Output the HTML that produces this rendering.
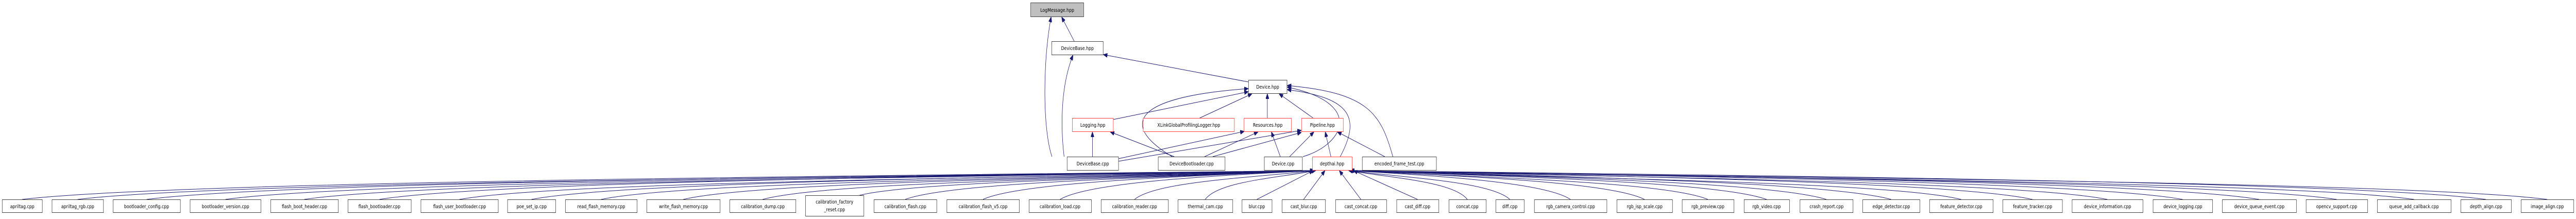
<!DOCTYPE html>
<html><head><meta charset="utf-8"><style>
html,body{margin:0;padding:0;background:#fff;width:100%;height:100%;overflow:hidden}
svg{display:block;width:100vw;height:100vh}
text{font-family:"DejaVu Sans","Liberation Sans",sans-serif;font-size:10px;fill:#000;text-anchor:middle}
.n{fill:#fff;stroke:#404040;stroke-width:1}
.r{fill:#fff;stroke:#ff4040;stroke-width:1}
.g{fill:#bfbfbf;stroke:#404040;stroke-width:1}
.e{fill:none;stroke:#191970;stroke-width:1}
</style></head><body>
<svg id="s" viewBox="0 0 6362 425" preserveAspectRatio="none" xmlns="http://www.w3.org/2000/svg">
<defs><marker id="a" markerWidth="10" markerHeight="8" refX="10" refY="4" orient="auto" markerUnits="userSpaceOnUse"><path d="M0,0 L10,4 L0,8 z" fill="#191970" stroke="#191970"/></marker></defs>
<g id="edges">
<path class="e" marker-end="url(#a)" d="M2653,80 L2622,33"/>
<path class="e" marker-end="url(#a)" d="M2598,304 C2575,250 2575,120 2596,33"/>
<path class="e" marker-end="url(#a)" d="M2628,304 C2620,250 2618,170 2650,107"/>
<path class="e" marker-end="url(#a)" d="M3083,159 L2725,106"/>
<path class="e" marker-end="url(#a)" d="M2749,232 L3083,178"/>
<path class="e" marker-end="url(#a)" d="M2963,229 L3092,182"/>
<path class="e" marker-end="url(#a)" d="M3130,229 L3130,182"/>
<path class="e" marker-end="url(#a)" d="M3243,229 L3159,182"/>
<path class="e" marker-end="url(#a)" d="M2698,304 L2698,256"/>
<path class="e" marker-end="url(#a)" d="M2900,304 L2742,256"/>
<path class="e" marker-end="url(#a)" d="M2762,308 L3073,255"/>
<path class="e" marker-end="url(#a)" d="M2762,313 L3214,253"/>
<path class="e" marker-end="url(#a)" d="M2975,304 L3107,256"/>
<path class="e" marker-end="url(#a)" d="M2995,304 L3214,257"/>
<path class="e" marker-end="url(#a)" d="M2895,304 C2780,250 2770,190 3083,172"/>
<path class="e" marker-end="url(#a)" d="M3162,304 L3140,256"/>
<path class="e" marker-end="url(#a)" d="M3185,304 L3245,256"/>
<path class="e" marker-end="url(#a)" d="M3218,304 C3320,280 3370,200 3179,169"/>
<path class="e" marker-end="url(#a)" d="M3287,304 L3273,256"/>
<path class="e" marker-end="url(#a)" d="M3310,304 C3360,230 3340,190 3179,174"/>
<path class="e" marker-end="url(#a)" d="M3420,304 L3303,256"/>
<path class="e" marker-end="url(#a)" d="M3440,304 C3410,220 3380,180 3179,166"/>
</g>
<g id="bedges"></g>
<rect class="g" x="2545.5" y="5.5" width="131" height="27"/><text x="2611" y="23">LogMessage.hpp</text>
<rect class="n" x="2597.5" y="80.5" width="127" height="26"/><text x="2661" y="97">DeviceBase.hpp</text>
<rect class="n" x="3083.5" y="155.5" width="95" height="26"/><text x="3131" y="172">Device.hpp</text>
<rect class="r" x="2648.5" y="229.5" width="101" height="26"/><text x="2699" y="246">Logging.hpp</text>
<rect class="r" x="2823.5" y="229.5" width="225" height="26"/><text x="2936" y="246">XLinkGlobalProfilingLogger.hpp</text>
<rect class="r" x="3072.5" y="229.5" width="117" height="26"/><text x="3131" y="246">Resources.hpp</text>
<rect class="r" x="3214.5" y="229.5" width="103" height="26"/><text x="3266" y="246">Pipeline.hpp</text>
<rect class="n" x="2635.5" y="304.5" width="127" height="26"/><text x="2699" y="321">DeviceBase.cpp</text>
<rect class="n" x="2860.5" y="304.5" width="165" height="26"/><text x="2943" y="321">DeviceBootloader.cpp</text>
<rect class="n" x="3122.5" y="304.5" width="94" height="26"/><text x="3169" y="321">Device.cpp</text>
<rect class="r" x="3241.5" y="304.5" width="98" height="26"/><text x="3290" y="321">depthai.hpp</text>
<rect class="n" x="3364.5" y="304.5" width="183" height="26"/><text x="3456" y="321">encoded_frame_test.cpp</text>
<g id="bottom">
<rect class="n" x="5.5" y="387.5" width="99" height="25"/><text x="55" y="404">apriltag.cpp</text>
<rect class="n" x="128.5" y="387.5" width="127" height="25"/><text x="192" y="404">apriltag_rgb.cpp</text>
<rect class="n" x="279.5" y="387.5" width="166" height="25"/><text x="362" y="404">bootloader_config.cpp</text>
<rect class="n" x="469.5" y="387.5" width="175" height="25"/><text x="557" y="404">bootloader_version.cpp</text>
<rect class="n" x="668.5" y="387.5" width="167" height="25"/><text x="752" y="404">flash_boot_header.cpp</text>
<rect class="n" x="859.5" y="387.5" width="156" height="25"/><text x="937" y="404">flash_bootloader.cpp</text>
<rect class="n" x="1039.5" y="387.5" width="191" height="25"/><text x="1135" y="404">flash_user_bootloader.cpp</text>
<rect class="n" x="1253.5" y="387.5" width="119" height="25"/><text x="1313" y="404">poe_set_ip.cpp</text>
<rect class="n" x="1396.5" y="387.5" width="177" height="25"/><text x="1485" y="404">read_flash_memory.cpp</text>
<rect class="n" x="1597.5" y="387.5" width="181" height="25"/><text x="1688" y="404">write_flash_memory.cpp</text>
<rect class="n" x="1802.5" y="387.5" width="163" height="25"/><text x="1884" y="404">calibration_dump.cpp</text>
<rect class="n" x="1989.5" y="379.5" width="144" height="40"/><text x="2061" y="395">calibration_factory</text><text x="2061" y="410">_reset.cpp</text>
<rect class="n" x="2158.5" y="387.5" width="155" height="25"/><text x="2236" y="404">calibration_flash.cpp</text>
<rect class="n" x="2338.5" y="387.5" width="179" height="25"/><text x="2428" y="404">calibration_flash_v5.cpp</text>
<rect class="n" x="2541.5" y="387.5" width="154" height="25"/><text x="2618" y="404">calibration_load.cpp</text>
<rect class="n" x="2719.5" y="387.5" width="166" height="25"/><text x="2802" y="404">calibration_reader.cpp</text>
<rect class="n" x="2909.5" y="387.5" width="135" height="25"/><text x="2977" y="404">thermal_cam.cpp</text>
<rect class="n" x="3067.5" y="387.5" width="74" height="25"/><text x="3104" y="404">blur.cpp</text>
<rect class="n" x="3166.5" y="387.5" width="107" height="25"/><text x="3220" y="404">cast_blur.cpp</text>
<rect class="n" x="3298.5" y="387.5" width="126" height="25"/><text x="3361" y="404">cast_concat.cpp</text>
<rect class="n" x="3449.5" y="387.5" width="104" height="25"/><text x="3501" y="404">cast_diff.cpp</text>
<rect class="n" x="3578.5" y="387.5" width="92" height="25"/><text x="3624" y="404">concat.cpp</text>
<rect class="n" x="3694.5" y="387.5" width="70" height="25"/><text x="3729" y="404">diff.cpp</text>
<rect class="n" x="3789.5" y="387.5" width="179" height="25"/><text x="3879" y="404">rgb_camera_control.cpp</text>
<rect class="n" x="3993.5" y="387.5" width="137" height="25"/><text x="4062" y="404">rgb_isp_scale.cpp</text>
<rect class="n" x="4154.5" y="387.5" width="128" height="25"/><text x="4218" y="404">rgb_preview.cpp</text>
<rect class="n" x="4307.5" y="387.5" width="112" height="25"/><text x="4363" y="404">rgb_video.cpp</text>
<rect class="n" x="4445.5" y="387.5" width="131" height="25"/><text x="4511" y="404">crash_report.cpp</text>
<rect class="n" x="4600.5" y="387.5" width="141" height="25"/><text x="4671" y="404">edge_detector.cpp</text>
<rect class="n" x="4765.5" y="387.5" width="157" height="25"/><text x="4844" y="404">feature_detector.cpp</text>
<rect class="n" x="4946.5" y="387.5" width="147" height="25"/><text x="5020" y="404">feature_tracker.cpp</text>
<rect class="n" x="5117.5" y="387.5" width="175" height="25"/><text x="5205" y="404">device_information.cpp</text>
<rect class="n" x="5317.5" y="387.5" width="147" height="25"/><text x="5391" y="404">device_logging.cpp</text>
<rect class="n" x="5488.5" y="387.5" width="183" height="25"/><text x="5580" y="404">device_queue_event.cpp</text>
<rect class="n" x="5695.5" y="387.5" width="152" height="25"/><text x="5771" y="404">opencv_support.cpp</text>
<rect class="n" x="5871.5" y="387.5" width="182" height="25"/><text x="5962" y="404">queue_add_callback.cpp</text>
<rect class="n" x="6077.5" y="387.5" width="125" height="25"/><text x="6140" y="404">depth_align.cpp</text>
<rect class="n" x="6226.5" y="387.5" width="130" height="25"/><text x="6291" y="404">image_align.cpp</text>
</g>
</svg>
<script>
(function(){
var xs=[[5,104],[128,255],[279,445],[469,644],[668,835],[859,1015],[1039,1230],[1253,1372],[1396,1573],[1597,1778],[1802,1965],[1989,2133,379],[2158,2313],[2338,2517],[2541,2695],[2719,2885],[2909,3044],[3067,3141],[3166,3273],[3298,3424],[3449,3553],[3578,3670],[3694,3764],[3789,3968],[3993,4130],[4154,4282],[4307,4419],[4445,4576],[4600,4741],[4765,4922],[4946,5093],[5117,5292],[5317,5464],[5488,5671],[5695,5847],[5871,6053],[6077,6202],[6226,6356]];
var g=document.getElementById('bedges'),s='';
xs.forEach(function(n){
 var sx=(n[0]+n[1])/2, sy=n[2]||387, d;
 if(n[2]) sx=n[1]-10;
 var dx=sx-3290, tx, ty=331;
 if(Math.abs(dx)<250){tx=3290+dx*0.25;d='M'+sx+','+sy+' L'+tx+','+ty;}
 else{
  tx=dx<0?3250+Math.max(-1,dx/3000)*5:3330+Math.min(1,dx/3000)*5;
  var c1x=sx+(tx-sx)*0.12, c2x=tx-(tx-sx)*0.35;
  d='M'+sx+','+sy+' C'+c1x+',352 '+c2x+','+(340+(Math.abs(dx)%7))+' '+tx+','+ty;
 }
 s+='<path class="e" marker-end="url(#a)" d="'+d+'"/>';
});
g.innerHTML=s;
})();
</script>
</body></html>
